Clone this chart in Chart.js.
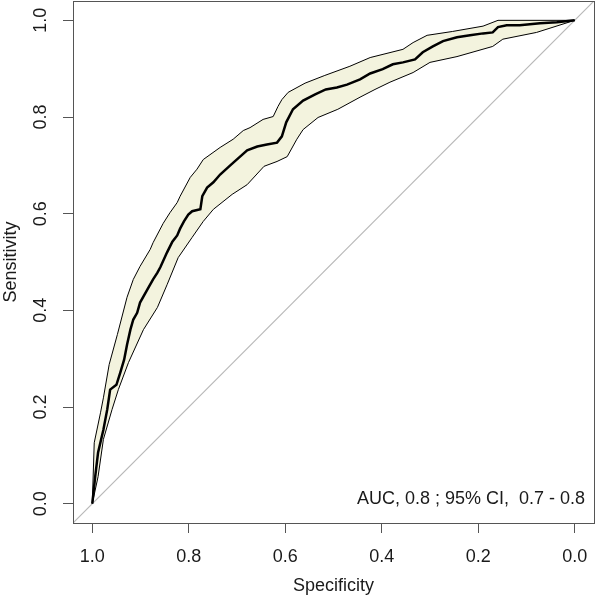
<!DOCTYPE html>
<html>
<head>
<meta charset="utf-8">
<script src="https://cdn.jsdelivr.net/npm/chart.js@4.4.0/dist/chart.umd.min.js"></script>
<style>
    html, body { margin: 0; padding: 0; background: #fff; }
</style>
</head>
<body>
<canvas id="roc" width="597" height="600"></canvas>
<script>
const tickValues = [0, 0.2, 0.4, 0.6, 0.8, 1.0];

// empirical ROC curve
const curveSpec = [1.000, 0.994, 0.988, 0.977, 0.969, 0.963, 0.950, 0.942, 0.934, 0.928, 0.921, 0.915, 0.907, 0.901, 0.886, 0.874, 0.865, 0.859, 0.845, 0.834, 0.824, 0.818, 0.810, 0.801, 0.793, 0.776, 0.772, 0.762, 0.749, 0.735, 0.714, 0.696, 0.679, 0.658, 0.638, 0.617, 0.607, 0.598, 0.584, 0.563, 0.538, 0.516, 0.493, 0.472, 0.445, 0.424, 0.398, 0.377, 0.356, 0.331, 0.315, 0.294, 0.273, 0.244, 0.217, 0.190, 0.170, 0.159, 0.141, 0.114, 0.072, 0.037, 0.000];
const curveSens = [0.000, 0.056, 0.106, 0.153, 0.195, 0.236, 0.246, 0.271, 0.298, 0.329, 0.360, 0.381, 0.395, 0.416, 0.443, 0.464, 0.478, 0.489, 0.520, 0.542, 0.555, 0.569, 0.584, 0.598, 0.605, 0.609, 0.636, 0.654, 0.665, 0.681, 0.700, 0.716, 0.731, 0.739, 0.743, 0.747, 0.760, 0.789, 0.816, 0.834, 0.847, 0.857, 0.861, 0.867, 0.878, 0.890, 0.899, 0.909, 0.913, 0.919, 0.934, 0.946, 0.957, 0.965, 0.969, 0.973, 0.975, 0.986, 0.990, 0.990, 0.994, 0.996, 1.000];

// 95% CI band for sensitivity
const upperSpec = [1.000, 0.996, 0.983, 0.977, 0.965, 0.948, 0.928, 0.915, 0.901, 0.880, 0.874, 0.853, 0.839, 0.824, 0.818, 0.797, 0.783, 0.770, 0.735, 0.708, 0.687, 0.673, 0.646, 0.625, 0.615, 0.607, 0.594, 0.559, 0.518, 0.466, 0.424, 0.356, 0.335, 0.306, 0.253, 0.190, 0.159, 0.000];
const upperSens = [0.000, 0.126, 0.188, 0.219, 0.288, 0.350, 0.427, 0.464, 0.491, 0.526, 0.540, 0.580, 0.602, 0.623, 0.636, 0.675, 0.692, 0.712, 0.737, 0.754, 0.772, 0.778, 0.795, 0.801, 0.822, 0.836, 0.851, 0.870, 0.886, 0.905, 0.923, 0.940, 0.954, 0.969, 0.977, 0.988, 1.000, 1.000];
const lowerSpec = [1.000, 0.988, 0.977, 0.959, 0.946, 0.925, 0.894, 0.865, 0.845, 0.822, 0.793, 0.770, 0.749, 0.710, 0.679, 0.644, 0.617, 0.596, 0.576, 0.563, 0.532, 0.491, 0.445, 0.414, 0.383, 0.335, 0.300, 0.244, 0.170, 0.149, 0.079, 0.000];
const lowerSens = [0.000, 0.056, 0.133, 0.195, 0.236, 0.292, 0.360, 0.406, 0.453, 0.509, 0.551, 0.584, 0.609, 0.640, 0.660, 0.698, 0.708, 0.718, 0.754, 0.774, 0.799, 0.816, 0.841, 0.857, 0.872, 0.892, 0.913, 0.925, 0.946, 0.961, 0.975, 1.000];

// chance line, corner to corner of the plot box
const diagSpec = [1.04, -0.04];
const diagSens = [-0.04, 1.04];

const aucText = 'AUC, 0.8 ; 95% CI,  0.7 - 0.8';
const xTitle = 'Specificity';
const yTitle = 'Sensitivity';

const FONT = '18px "Liberation Sans", Arial, sans-serif';
const TEXT = '#1a1a1a';
const AXIS = '#555555';

const toPoints = (xs, ys) => xs.map((x, i) => ({ x: x, y: ys[i] }));

const textPlugin = {
    id: 'rocText',
    afterDraw(chart) {
        const { ctx, chartArea: a, scales: { x, y } } = chart;
        ctx.save();
        ctx.strokeStyle = AXIS;
        ctx.lineWidth = 1;
        ctx.strokeRect(a.left + 0.5, a.top + 0.5, a.right - a.left, a.bottom - a.top);

        ctx.font = FONT;
        ctx.fillStyle = TEXT;
        ctx.textAlign = 'center';
        ctx.textBaseline = 'middle';
        tickValues.forEach(v => {
            ctx.fillText(v.toFixed(1), x.getPixelForValue(v), 557);
            ctx.save();
            ctx.translate(41, y.getPixelForValue(v));
            ctx.rotate(-Math.PI / 2);
            ctx.fillText(v.toFixed(1), 0, 0);
            ctx.restore();
        });

        ctx.fillText(xTitle, (a.left + a.right) / 2, 586);
        ctx.save();
        ctx.translate(11, (a.top + a.bottom) / 2);
        ctx.rotate(-Math.PI / 2);
        ctx.fillText(yTitle, 0, 0);
        ctx.restore();

        ctx.textAlign = 'right';
        ctx.fillText(aucText, 585, 499);
        ctx.restore();
    }
};

const axisOptions = (fit) => ({
    type: 'linear',
    min: -0.04,
    max: 1.04,
    afterBuildTicks: s => { s.ticks = tickValues.map(v => ({ value: v })); },
    afterFit: fit,
    grid: { drawOnChartArea: false, drawTicks: true, tickLength: 10, color: AXIS, lineWidth: 1 },
    border: { display: false },
    ticks: { display: false }
});

new Chart(document.getElementById('roc'), {
    type: 'line',
    data: {
        datasets: [
            {
                data: toPoints(curveSpec, curveSens),
                borderColor: '#000000',
                borderWidth: 2.5,
                pointRadius: 0,
                fill: false,
                order: 0
            },
            {
                data: toPoints(upperSpec, upperSens),
                borderColor: '#000000',
                borderWidth: 1,
                backgroundColor: '#F3F3DE',
                pointRadius: 0,
                fill: '+1',
                order: 2
            },
            {
                data: toPoints(lowerSpec, lowerSens),
                borderColor: '#000000',
                borderWidth: 1,
                pointRadius: 0,
                fill: false,
                order: 1
            },
            {
                data: toPoints(diagSpec, diagSens),
                borderColor: '#b8b8b8',
                borderWidth: 1.2,
                pointRadius: 0,
                fill: false,
                order: 3
            }
        ]
    },
    options: {
        responsive: false,
        animation: false,
        parsing: false,
        layout: { padding: { top: 1, right: 3, left: 0, bottom: 0 } },
        plugins: {
            legend: { display: false },
            tooltip: { enabled: false }
        },
        scales: {
            x: Object.assign(axisOptions(s => { s.height = 77; }), { reverse: true }),
            y: axisOptions(s => { s.width = 73; })
        }
    },
    plugins: [textPlugin]
});
</script>
</body>
</html>
